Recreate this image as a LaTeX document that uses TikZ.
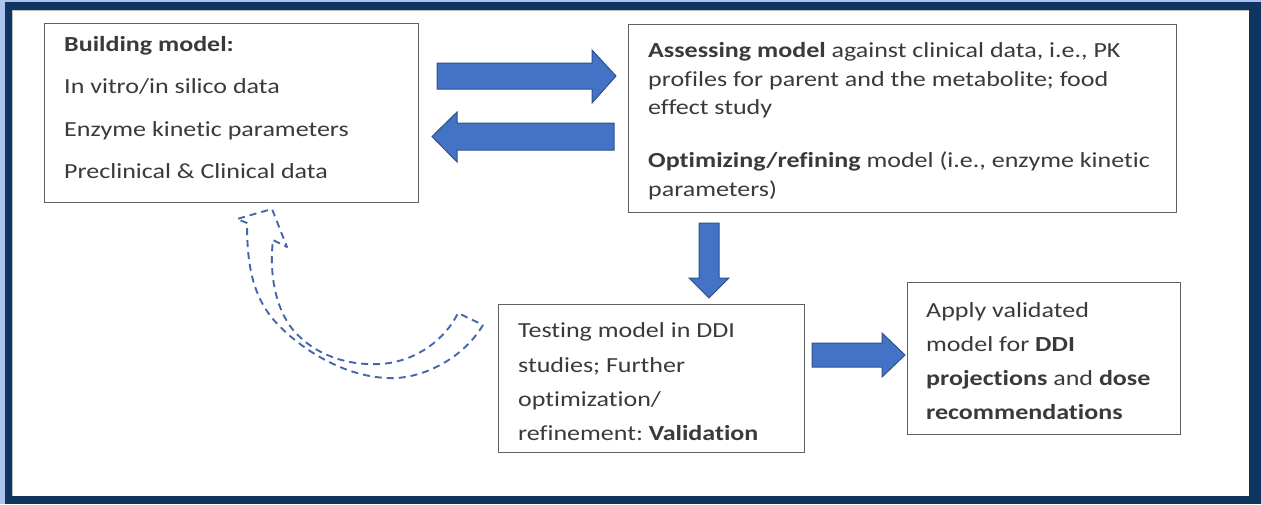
\documentclass[tikz,border=0pt]{standalone}
\usepackage{fontspec}
\setmainfont{Carlito}[FakeStretch=1.21, Ligatures={NoCommon}]
\frenchspacing
\definecolor{navy}{RGB}{15,52,95}
\definecolor{lightbg}{RGB}{170,196,238}
\definecolor{arrowfill}{RGB}{68,114,196}
\definecolor{arrowline}{RGB}{47,82,143}
\definecolor{dashblue}{RGB}{70,102,172}
\definecolor{txt}{RGB}{58,58,58}
\tikzset{
  box/.style={draw=black!62, line width=1.4pt, fill=white, rectangle, anchor=north west, inner sep=0pt},
  txtline/.style={anchor=base west, inner sep=0pt, text=txt, font=\fontsize{21.5}{28}\selectfont},
  blockarrow/.style={fill=arrowfill, draw=arrowline, line width=1pt, line join=miter},
  dasharrow/.style={draw=dashblue, line width=1.9pt, dash pattern=on 7pt off 5pt, line join=round}
}
\begin{document}
\begin{tikzpicture}[x=1pt,y=-1pt]
\useasboundingbox (0,0) rectangle (1261,504);
% frame
\fill[navy] (0,0) rectangle (1261,504);
\fill[lightbg] (0,0) rectangle (5,504);
\fill[lightbg] (0,0) rectangle (1261,2);
\fill[white] (12,10) rectangle (1249,496);
\draw[black!25, line width=0.8pt] (12.4,496) -- (12.4,10.4) -- (1249,10.4);

% boxes
\node[box, minimum width=374pt, minimum height=179pt] (b1) at (44,23) {};
\node[box, minimum width=548pt, minimum height=188pt] (b2) at (628,24) {};
\node[box, minimum width=306pt, minimum height=148pt] (b3) at (498,304) {};
\node[box, minimum width=273pt, minimum height=152pt] (b4) at (907,282) {};

% box 1 text
\node[txtline] (t11) at (64,51) {\textbf{Building model:}};
\node[txtline] (t12) at (64,93) {In vitro/in silico data};
\node[txtline] (t13) at (64,136) {Enzyme kinetic parameters};
\node[txtline] (t14) at (64,178) {Preclinical \& Clinical data};

% box 2 text
\node[txtline] (t21) at (648,57) {\textbf{Assessing model} against clinical data, i.e., PK};
\node[txtline] (t22) at (648,86) {profiles for parent and the metabolite; food};
\node[txtline] (t23) at (648,114) {effect study};
\node[txtline] (t24) at (648,167) {\textbf{Optimizing/refining} model (i.e., enzyme kinetic};
\node[txtline] (t25) at (648,196) {parameters)};

% box 3 text
\node[txtline] (t31) at (518,337) {Testing model in DDI};
\node[txtline] (t32) at (518,372) {studies; Further};
\node[txtline] (t33) at (518,406) {optimization/};
\node[txtline] (t34) at (518,440) {refinement: \textbf{Validation}};

% box 4 text
\node[txtline] (t41) at (926,317) {Apply validated};
\node[txtline] (t42) at (926,351) {model for \textbf{DDI}};
\node[txtline] (t43) at (926,385) {\textbf{projections} and \textbf{dose}};
\node[txtline] (t44) at (926,419) {\textbf{recommendations}};

% block arrows
\draw[blockarrow] (437,63) -- (592,63) -- (592,50) -- (616,76) -- (592,103) -- (592,89) -- (437,89) -- cycle;
\draw[blockarrow] (614,123) -- (457,123) -- (457,112) -- (432,136.5) -- (457,162) -- (457,150) -- (614,150) -- cycle;
\draw[blockarrow] (699,223) -- (719,223) -- (719,278) -- (729,278) -- (709,298) -- (689,278) -- (699,278) -- cycle;
\draw[blockarrow] (812,343) -- (882,343) -- (882,333) -- (905,355) -- (882,377) -- (882,367) -- (812,367) -- cycle;

% dashed curved arrow (outline)
\draw[dasharrow] (483,325)
  .. controls (462,360) and (420,380) .. (387,378)
  .. controls (340,376) and (295,345) .. (272,318)
  .. controls (252,293) and (247,263) .. (247,223)
  -- (237,219) -- (272,209) -- (287,247) -- (273,240)
  .. controls (270,265) and (272,300) .. (290,326)
  .. controls (308,350) and (340,366) .. (380,364)
  .. controls (415,362) and (445,340) .. (458,313)
  -- cycle;
\end{tikzpicture}
\end{document}
